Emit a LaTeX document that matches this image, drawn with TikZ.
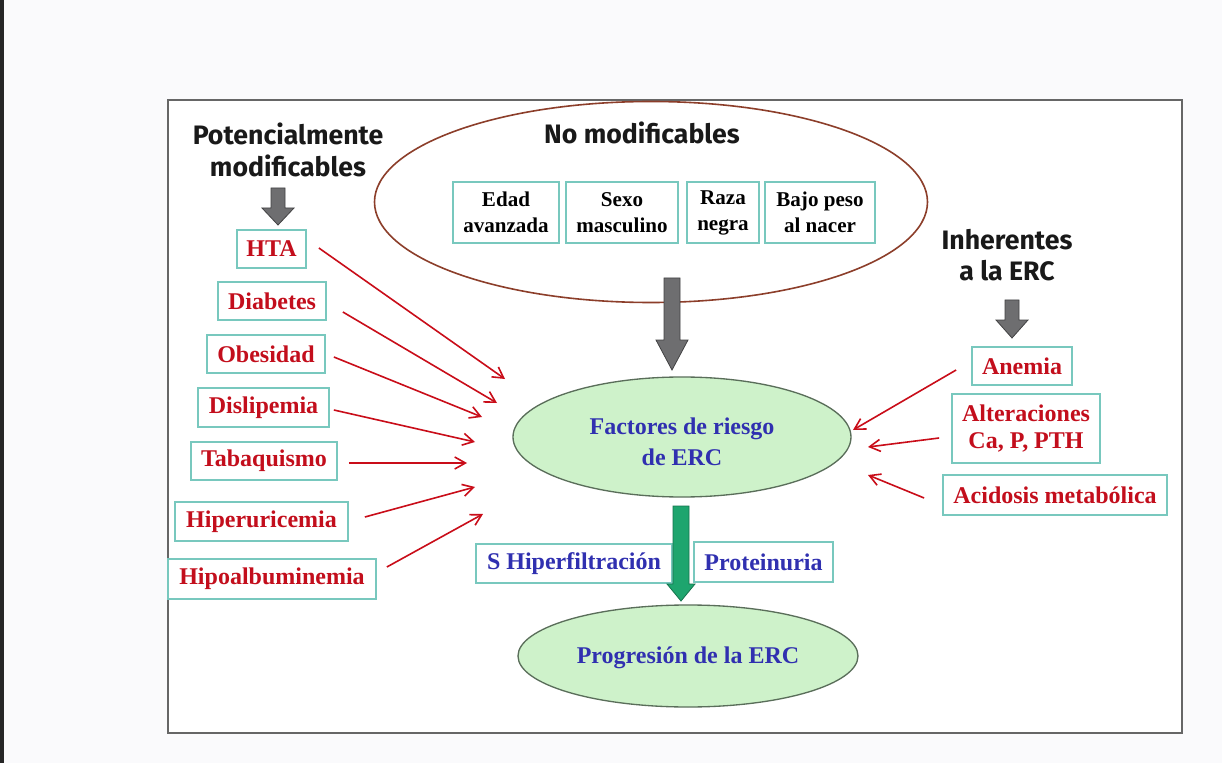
\documentclass[tikz,border=0pt]{standalone}
\usepackage{fontspec}
\setmainfont{Liberation Serif}
\newfontfamily\hdrfont{Fira Sans}
\usetikzlibrary{arrows.meta,shapes.geometric}
\newlength\pu
\setlength\pu{0.75pt}
\definecolor{redtxt}{RGB}{195,14,28}
\definecolor{bluetxt}{RGB}{48,48,176}
\definecolor{boxc}{RGB}{120,200,190}
\definecolor{ellfill}{RGB}{206,242,202}
\definecolor{elldraw}{RGB}{90,110,90}
\definecolor{topell}{RGB}{140,62,42}
\definecolor{greenarr}{RGB}{30,165,110}
\definecolor{grayarr}{RGB}{110,110,112}
\definecolor{pagebg}{RGB}{250,250,252}
\tikzset{
  lbox/.style={draw=boxc, line width=1.3pt, fill=white, inner sep=0pt, align=center, font=\bfseries\fontsize{18}{20}\selectfont},
  redbox/.style={lbox, text=redtxt},
  bluebox/.style={lbox, text=bluetxt},
  blackbox/.style={lbox, text=black, font=\bfseries\fontsize{15.8}{19.5}\selectfont},
  hdr/.style={align=center, font=\hdrfont\bfseries\fontsize{20}{23.5}\selectfont, text=black!90},
  greenell/.style={ellipse, draw=elldraw, line width=1pt, fill=ellfill, inner sep=0pt},
  elltxt/.style={text=bluetxt, align=center, font=\bfseries\fontsize{18}{23.5}\selectfont},
  redarr/.style={draw=redtxt!90!red, line width=1.2pt, -{Straight Barb[length=8pt,width=9pt,line width=1.2pt]}},
  blockarr/.style={fill=grayarr, draw=grayarr!60!black, line width=0.6pt}
}
\begin{document}
\begin{tikzpicture}[x=0.75pt,y=-0.75pt]
\fill[pagebg] (0,0) rectangle (1222,763);
\useasboundingbox (0,0) rectangle (1222,763);
\fill[black!85] (0,0) rectangle (4,763);
% frame
\draw[fill=white, draw=black!60, line width=1.5pt] (168,100) rectangle (1182,733);

% headers
\node[hdr] (hpot) at (288,150) {Potencialmente\\modificables};
\node[hdr] (hno) at (642,133) {No modificables};
\node[hdr] (hinh) at (1007,255) {Inherentes\\a la ERC};

% top ellipse
\node[ellipse, draw=topell, line width=1.2pt, minimum width=553\pu, minimum height=201\pu] (nomod) at (651,202) {};
\node[blackbox, minimum width=106\pu, minimum height=61\pu] (edad) at (506,212.5) {Edad\\avanzada};
\node[blackbox, minimum width=112\pu, minimum height=61\pu] (sexo) at (622,212.5) {Sexo\\masculino};
\node[blackbox, minimum width=72\pu, minimum height=61\pu] (raza) at (723,212.5) {Raza\\negra};
\node[blackbox, minimum width=110\pu, minimum height=61\pu] (bajo) at (820,212.5) {Bajo peso\\al nacer};

% left boxes
\node[redbox, minimum width=69\pu, minimum height=38\pu] (hta) at (271.5,249) {HTA};
\node[redbox, minimum width=108\pu, minimum height=38\pu] (diab) at (272,301) {Diabetes};
\node[redbox, minimum width=118\pu, minimum height=38\pu] (obes) at (266,354) {Obesidad};
\node[redbox, minimum width=131\pu, minimum height=39\pu] (disl) at (263.5,407.5) {Dislipemia};
\node[redbox, minimum width=146\pu, minimum height=38\pu] (taba) at (264,461) {Tabaquismo};
\node[redbox, minimum width=173\pu, minimum height=39\pu] (hiper) at (261.5,521.5) {Hiperuricemia};
\node[redbox, minimum width=208\pu, minimum height=40\pu] (hipo) at (272,579) {Hipoalbuminemia};

% right boxes
\node[redbox, minimum width=100\pu, minimum height=38\pu] (anem) at (1022,366) {Anemia};
\node[redbox, minimum width=148\pu, minimum height=69\pu] (alt) at (1026,428.5) {Alteraciones\\Ca, P, PTH};
\node[redbox, minimum width=224\pu, minimum height=40\pu] (acid) at (1055,495) {Acidosis metab\'olica};

% central ellipses
\node[greenell, minimum width=338\pu, minimum height=120\pu] (fact) at (682,437) {};
\node[elltxt] (facttxt) at (682,442) {Factores de riesgo\\de ERC};
\node[greenell, minimum width=340\pu, minimum height=102\pu] (prog) at (688,656) {};
\node[elltxt] (progtxt) at (688,658) {Progresi\'on de la ERC};

% blue boxes
\node[bluebox, minimum width=196\pu, minimum height=39\pu] (shf) at (574,563.5) {S Hiperfiltraci\'on};
\node[bluebox, minimum width=139\pu, minimum height=40\pu] (prot) at (763.5,562) {Proteinuria};

% gray block arrows
\draw[blockarr] (271,188) -- (285,188) -- (285,208) -- (294,208) -- (278,225) -- (262,208) -- (271,208) -- cycle;
\draw[blockarr] (664,278) -- (680,278) -- (680,340) -- (688,340) -- (672,370) -- (656,340) -- (664,340) -- cycle;
\draw[blockarr] (1005,300) -- (1019,300) -- (1019,320) -- (1028,320) -- (1012,338) -- (996,320) -- (1005,320) -- cycle;
% green block arrow
\draw[fill=greenarr, draw=greenarr!70!black, line width=0.6pt] (673,506) -- (689,506) -- (689,584) -- (695,584) -- (681,601) -- (667,584) -- (673,584) -- cycle;

% red arrows left
\coordinate (e1) at (505,379);
\coordinate (e2) at (497,403);
\coordinate (e3) at (482,417);
\coordinate (e4) at (475,442);
\coordinate (e5) at (467,463);
\coordinate (e6) at (475,487);
\coordinate (e7) at (483,514);
\draw[redarr] ([xshift=12\pu]hta.east) ++(0,-1) -- (e1);
\draw[redarr] (diab.east) ++(16,11) -- (e2);
\draw[redarr] (obes.east) ++(8,3) -- (e3);
\draw[redarr] (disl.east) ++(4,2.5) -- (e4);
\draw[redarr] (taba.east) ++(11,2) -- (e5);
\draw[redarr] (hiper.east) ++(16,-4.5) -- (e6);
\draw[redarr] (hipo.east) ++(10,-12) -- (e7);

% red arrows right
\coordinate (r1) at (853,430);
\coordinate (r2) at (868,447);
\coordinate (r3) at (868,475);
\draw[redarr] (anem.west) ++(-15,4) -- (r1);
\draw[redarr] (alt.west) ++(-12,9.5) -- (r2);
\draw[redarr] (acid.west) ++(-18,3) -- (r3);
\end{tikzpicture}
\end{document}
